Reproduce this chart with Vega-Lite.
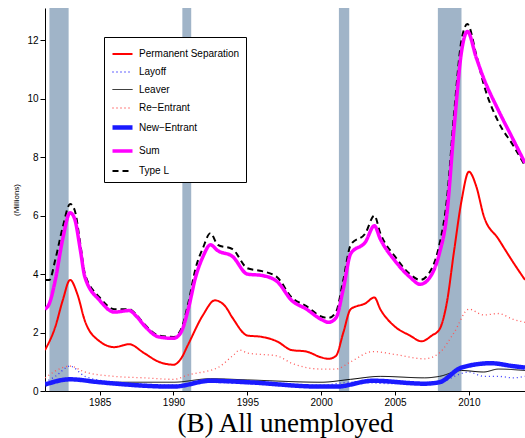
{
  "$schema": "https://vega.github.io/schema/vega-lite/v6.json",
  "width": 480,
  "height": 383,
  "autosize": "none",
  "padding": {"left": 45, "top": 8, "right": 0, "bottom": 47},
  "background": "white",
  "config": {"view": {"stroke": null}, "font": "Liberation Sans"},
  "datasets": {
    "rec": [
      {"s": 1981.6, "e": 1982.9},
      {"s": 1990.6, "e": 1991.2},
      {"s": 2001.2, "e": 2001.9},
      {"s": 2007.9, "e": 2009.5}
    ],
    "series": [
      {"k": "Type L", "t": 1981.3, "v": 3.8}, {"k": "Type L", "t": 1981.6, "v": 3.8}, {"k": "Type L", "t": 1982, "v": 4.5}, {"k": "Type L", "t": 1982.5, "v": 5.6}, {"k": "Type L", "t": 1983, "v": 6.4}, {"k": "Type L", "t": 1983.3, "v": 6.2}, {"k": "Type L", "t": 1983.7, "v": 5.0}, {"k": "Type L", "t": 1984, "v": 4.0}, {"k": "Type L", "t": 1985, "v": 3.2}, {"k": "Type L", "t": 1986, "v": 2.8}, {"k": "Type L", "t": 1987, "v": 2.8}, {"k": "Type L", "t": 1987.5, "v": 2.6}, {"k": "Type L", "t": 1988, "v": 2.3}, {"k": "Type L", "t": 1989, "v": 1.9}, {"k": "Type L", "t": 1990, "v": 1.85}, {"k": "Type L", "t": 1990.5, "v": 2.1}, {"k": "Type L", "t": 1991, "v": 3.0}, {"k": "Type L", "t": 1991.5, "v": 4.2}, {"k": "Type L", "t": 1992, "v": 4.9}, {"k": "Type L", "t": 1992.5, "v": 5.4}, {"k": "Type L", "t": 1993, "v": 5.0}, {"k": "Type L", "t": 1994, "v": 4.85}, {"k": "Type L", "t": 1995, "v": 4.2}, {"k": "Type L", "t": 1996, "v": 4.1}, {"k": "Type L", "t": 1997, "v": 3.9}, {"k": "Type L", "t": 1998, "v": 3.2}, {"k": "Type L", "t": 1999, "v": 2.9}, {"k": "Type L", "t": 2000, "v": 2.55}, {"k": "Type L", "t": 2000.5, "v": 2.5}, {"k": "Type L", "t": 2001, "v": 2.7}, {"k": "Type L", "t": 2001.5, "v": 3.8}, {"k": "Type L", "t": 2002, "v": 5.0}, {"k": "Type L", "t": 2003, "v": 5.4}, {"k": "Type L", "t": 2003.6, "v": 6.0}, {"k": "Type L", "t": 2004, "v": 5.4}, {"k": "Type L", "t": 2005, "v": 4.6}, {"k": "Type L", "t": 2006, "v": 4.0}, {"k": "Type L", "t": 2006.7, "v": 3.8}, {"k": "Type L", "t": 2007.5, "v": 4.2}, {"k": "Type L", "t": 2008, "v": 5.0}, {"k": "Type L", "t": 2008.5, "v": 6.5}, {"k": "Type L", "t": 2009, "v": 9.5}, {"k": "Type L", "t": 2009.5, "v": 12.0}, {"k": "Type L", "t": 2009.9, "v": 12.55}, {"k": "Type L", "t": 2010.5, "v": 11.5}, {"k": "Type L", "t": 2011, "v": 10.5}, {"k": "Type L", "t": 2012, "v": 9.2}, {"k": "Type L", "t": 2013, "v": 8.4}, {"k": "Type L", "t": 2013.8, "v": 7.7},
      {"k": "Sum", "t": 1981.3, "v": 2.8}, {"k": "Sum", "t": 1981.6, "v": 3.0}, {"k": "Sum", "t": 1982, "v": 3.8}, {"k": "Sum", "t": 1982.5, "v": 5.2}, {"k": "Sum", "t": 1983, "v": 6.1}, {"k": "Sum", "t": 1983.3, "v": 5.9}, {"k": "Sum", "t": 1983.7, "v": 4.8}, {"k": "Sum", "t": 1984, "v": 3.9}, {"k": "Sum", "t": 1985, "v": 3.1}, {"k": "Sum", "t": 1986, "v": 2.7}, {"k": "Sum", "t": 1987, "v": 2.75}, {"k": "Sum", "t": 1987.5, "v": 2.55}, {"k": "Sum", "t": 1988, "v": 2.25}, {"k": "Sum", "t": 1989, "v": 1.85}, {"k": "Sum", "t": 1990, "v": 1.8}, {"k": "Sum", "t": 1990.5, "v": 2.0}, {"k": "Sum", "t": 1991, "v": 2.8}, {"k": "Sum", "t": 1991.5, "v": 3.9}, {"k": "Sum", "t": 1992, "v": 4.6}, {"k": "Sum", "t": 1992.5, "v": 5.0}, {"k": "Sum", "t": 1993, "v": 4.8}, {"k": "Sum", "t": 1994, "v": 4.6}, {"k": "Sum", "t": 1995, "v": 4.0}, {"k": "Sum", "t": 1996, "v": 3.95}, {"k": "Sum", "t": 1997, "v": 3.75}, {"k": "Sum", "t": 1998, "v": 3.1}, {"k": "Sum", "t": 1999, "v": 2.8}, {"k": "Sum", "t": 2000, "v": 2.45}, {"k": "Sum", "t": 2000.5, "v": 2.35}, {"k": "Sum", "t": 2001, "v": 2.5}, {"k": "Sum", "t": 2001.5, "v": 3.5}, {"k": "Sum", "t": 2002, "v": 4.7}, {"k": "Sum", "t": 2003, "v": 5.1}, {"k": "Sum", "t": 2003.6, "v": 5.65}, {"k": "Sum", "t": 2004, "v": 5.2}, {"k": "Sum", "t": 2005, "v": 4.45}, {"k": "Sum", "t": 2006, "v": 3.9}, {"k": "Sum", "t": 2006.7, "v": 3.65}, {"k": "Sum", "t": 2007.5, "v": 4.0}, {"k": "Sum", "t": 2008, "v": 4.7}, {"k": "Sum", "t": 2008.5, "v": 6.0}, {"k": "Sum", "t": 2009, "v": 9.0}, {"k": "Sum", "t": 2009.5, "v": 11.6}, {"k": "Sum", "t": 2009.9, "v": 12.3}, {"k": "Sum", "t": 2010.5, "v": 11.4}, {"k": "Sum", "t": 2011, "v": 10.7}, {"k": "Sum", "t": 2012, "v": 9.6}, {"k": "Sum", "t": 2013, "v": 8.6}, {"k": "Sum", "t": 2013.8, "v": 7.8},
      {"k": "Permanent Separation", "t": 1981.3, "v": 1.4}, {"k": "Permanent Separation", "t": 1982, "v": 2.2}, {"k": "Permanent Separation", "t": 1982.5, "v": 3.1}, {"k": "Permanent Separation", "t": 1983, "v": 3.8}, {"k": "Permanent Separation", "t": 1983.5, "v": 3.3}, {"k": "Permanent Separation", "t": 1984, "v": 2.4}, {"k": "Permanent Separation", "t": 1985, "v": 1.7}, {"k": "Permanent Separation", "t": 1986, "v": 1.5}, {"k": "Permanent Separation", "t": 1987, "v": 1.6}, {"k": "Permanent Separation", "t": 1988, "v": 1.3}, {"k": "Permanent Separation", "t": 1989, "v": 1.0}, {"k": "Permanent Separation", "t": 1990, "v": 0.9}, {"k": "Permanent Separation", "t": 1990.5, "v": 1.1}, {"k": "Permanent Separation", "t": 1991, "v": 1.6}, {"k": "Permanent Separation", "t": 1992, "v": 2.6}, {"k": "Permanent Separation", "t": 1992.8, "v": 3.1}, {"k": "Permanent Separation", "t": 1993.5, "v": 2.9}, {"k": "Permanent Separation", "t": 1994, "v": 2.5}, {"k": "Permanent Separation", "t": 1995, "v": 1.9}, {"k": "Permanent Separation", "t": 1996, "v": 1.85}, {"k": "Permanent Separation", "t": 1997, "v": 1.7}, {"k": "Permanent Separation", "t": 1998, "v": 1.4}, {"k": "Permanent Separation", "t": 1999, "v": 1.35}, {"k": "Permanent Separation", "t": 2000, "v": 1.15}, {"k": "Permanent Separation", "t": 2000.5, "v": 1.1}, {"k": "Permanent Separation", "t": 2001, "v": 1.2}, {"k": "Permanent Separation", "t": 2001.5, "v": 2.0}, {"k": "Permanent Separation", "t": 2002, "v": 2.8}, {"k": "Permanent Separation", "t": 2003, "v": 3.0}, {"k": "Permanent Separation", "t": 2003.6, "v": 3.2}, {"k": "Permanent Separation", "t": 2004, "v": 2.8}, {"k": "Permanent Separation", "t": 2005, "v": 2.2}, {"k": "Permanent Separation", "t": 2006, "v": 1.9}, {"k": "Permanent Separation", "t": 2006.8, "v": 1.7}, {"k": "Permanent Separation", "t": 2007.5, "v": 1.9}, {"k": "Permanent Separation", "t": 2008, "v": 2.1}, {"k": "Permanent Separation", "t": 2008.5, "v": 3.0}, {"k": "Permanent Separation", "t": 2009, "v": 4.8}, {"k": "Permanent Separation", "t": 2009.5, "v": 6.5}, {"k": "Permanent Separation", "t": 2010, "v": 7.5}, {"k": "Permanent Separation", "t": 2010.5, "v": 7.0}, {"k": "Permanent Separation", "t": 2011, "v": 6.0}, {"k": "Permanent Separation", "t": 2012, "v": 5.2}, {"k": "Permanent Separation", "t": 2013, "v": 4.4}, {"k": "Permanent Separation", "t": 2013.8, "v": 3.8},
      {"k": "Re\u2212Entrant", "t": 1981.3, "v": 0.45}, {"k": "Re\u2212Entrant", "t": 1983, "v": 0.85}, {"k": "Re\u2212Entrant", "t": 1984, "v": 0.65}, {"k": "Re\u2212Entrant", "t": 1986, "v": 0.5}, {"k": "Re\u2212Entrant", "t": 1988, "v": 0.45}, {"k": "Re\u2212Entrant", "t": 1990, "v": 0.4}, {"k": "Re\u2212Entrant", "t": 1991, "v": 0.55}, {"k": "Re\u2212Entrant", "t": 1993, "v": 0.8}, {"k": "Re\u2212Entrant", "t": 1994, "v": 1.2}, {"k": "Re\u2212Entrant", "t": 1994.5, "v": 1.4}, {"k": "Re\u2212Entrant", "t": 1995, "v": 1.3}, {"k": "Re\u2212Entrant", "t": 1997, "v": 1.2}, {"k": "Re\u2212Entrant", "t": 1998, "v": 0.95}, {"k": "Re\u2212Entrant", "t": 2000, "v": 0.75}, {"k": "Re\u2212Entrant", "t": 2001, "v": 0.75}, {"k": "Re\u2212Entrant", "t": 2002, "v": 1.0}, {"k": "Re\u2212Entrant", "t": 2003.5, "v": 1.35}, {"k": "Re\u2212Entrant", "t": 2005, "v": 1.25}, {"k": "Re\u2212Entrant", "t": 2007, "v": 1.1}, {"k": "Re\u2212Entrant", "t": 2008, "v": 1.3}, {"k": "Re\u2212Entrant", "t": 2009, "v": 2.0}, {"k": "Re\u2212Entrant", "t": 2010, "v": 2.8}, {"k": "Re\u2212Entrant", "t": 2011, "v": 2.6}, {"k": "Re\u2212Entrant", "t": 2012, "v": 2.65}, {"k": "Re\u2212Entrant", "t": 2013, "v": 2.45}, {"k": "Re\u2212Entrant", "t": 2013.8, "v": 2.35},
      {"k": "Layoff", "t": 1981.3, "v": 0.3}, {"k": "Layoff", "t": 1982, "v": 0.5}, {"k": "Layoff", "t": 1983, "v": 0.85}, {"k": "Layoff", "t": 1984, "v": 0.5}, {"k": "Layoff", "t": 1986, "v": 0.3}, {"k": "Layoff", "t": 1990, "v": 0.2}, {"k": "Layoff", "t": 1992, "v": 0.3}, {"k": "Layoff", "t": 1995, "v": 0.25}, {"k": "Layoff", "t": 2000, "v": 0.2}, {"k": "Layoff", "t": 2002, "v": 0.3}, {"k": "Layoff", "t": 2005, "v": 0.25}, {"k": "Layoff", "t": 2008, "v": 0.3}, {"k": "Layoff", "t": 2009.5, "v": 0.6}, {"k": "Layoff", "t": 2010, "v": 0.65}, {"k": "Layoff", "t": 2011, "v": 0.5}, {"k": "Layoff", "t": 2012, "v": 0.5}, {"k": "Layoff", "t": 2013, "v": 0.45}, {"k": "Layoff", "t": 2013.8, "v": 0.5},
      {"k": "Leaver", "t": 1981.3, "v": 0.25}, {"k": "Leaver", "t": 1983, "v": 0.4}, {"k": "Leaver", "t": 1985, "v": 0.3}, {"k": "Leaver", "t": 1990, "v": 0.3}, {"k": "Leaver", "t": 1992.5, "v": 0.42}, {"k": "Leaver", "t": 1995, "v": 0.38}, {"k": "Leaver", "t": 2000, "v": 0.3}, {"k": "Leaver", "t": 2002, "v": 0.4}, {"k": "Leaver", "t": 2004, "v": 0.5}, {"k": "Leaver", "t": 2007, "v": 0.45}, {"k": "Leaver", "t": 2008, "v": 0.5}, {"k": "Leaver", "t": 2009.5, "v": 0.7}, {"k": "Leaver", "t": 2011, "v": 0.65}, {"k": "Leaver", "t": 2012, "v": 0.75}, {"k": "Leaver", "t": 2013.8, "v": 0.7},
      {"k": "New\u2212Entrant", "t": 1981.3, "v": 0.22}, {"k": "New\u2212Entrant", "t": 1983, "v": 0.4}, {"k": "New\u2212Entrant", "t": 1985, "v": 0.3}, {"k": "New\u2212Entrant", "t": 1990, "v": 0.15}, {"k": "New\u2212Entrant", "t": 1992.5, "v": 0.35}, {"k": "New\u2212Entrant", "t": 1995, "v": 0.3}, {"k": "New\u2212Entrant", "t": 2000, "v": 0.15}, {"k": "New\u2212Entrant", "t": 2001, "v": 0.15}, {"k": "New\u2212Entrant", "t": 2003.5, "v": 0.35}, {"k": "New\u2212Entrant", "t": 2007, "v": 0.25}, {"k": "New\u2212Entrant", "t": 2008, "v": 0.3}, {"k": "New\u2212Entrant", "t": 2009.5, "v": 0.8}, {"k": "New\u2212Entrant", "t": 2011.5, "v": 0.95}, {"k": "New\u2212Entrant", "t": 2013, "v": 0.85}, {"k": "New\u2212Entrant", "t": 2013.8, "v": 0.8}
    ]
  },
  "layer": [
    {
      "data": {"name": "rec"},
      "mark": {"type": "rect", "color": "#a0b4c8", "opacity": 1},
      "encoding": {
        "x": {"field": "s", "type": "quantitative"},
        "x2": {"field": "e"}
      }
    },
    {
      "data": {"name": "series"},
      "mark": {"type": "line", "clip": true, "interpolate": "monotone"},
      "encoding": {
        "x": {
          "field": "t", "type": "quantitative",
          "scale": {"domain": [1981.3, 2013.8], "nice": false, "zero": false},
          "axis": {"values": [1985, 1990, 1995, 2000, 2005, 2010], "format": "d", "grid": false, "domainColor": "black", "tickColor": "black", "labelColor": "black", "labelFontSize": 10, "tickSize": 4, "title": "(B) All unemployed", "titleFont": "Liberation Serif", "titleFontSize": 27, "titleFontWeight": "normal", "titlePadding": 3}
        },
        "y": {
          "field": "v", "type": "quantitative",
          "scale": {"domain": [0, 13.1], "nice": false},
          "axis": {"values": [0, 2, 4, 6, 8, 10, 12], "grid": false, "domainColor": "black", "tickColor": "black", "labelColor": "black", "labelFontSize": 10, "title": "(Millions)", "titleFontSize": 8, "titleFontWeight": "normal", "titlePadding": 6}
        },
        "order": {"field": "t", "type": "quantitative"},
        "color": {
          "field": "k", "type": "nominal",
          "scale": {
            "domain": ["Permanent Separation", "Layoff", "Leaver", "Re\u2212Entrant", "New\u2212Entrant", "Sum", "Type L"],
            "range": ["#ff0000", "#3333ff", "#000000", "#ff5555", "#1a1aff", "#ff00ff", "#000000"]
          },
          "legend": {
            "orient": "none", "legendX": 59, "legendY": 29, "title": null,
            "strokeColor": "black", "fillColor": "white", "padding": 6,
            "labelFontSize": 10, "labelColor": "black", "symbolSize": 400, "rowPadding": 2
          }
        },
        "strokeDash": {
          "field": "k", "type": "nominal",
          "scale": {
            "domain": ["Permanent Separation", "Layoff", "Leaver", "Re\u2212Entrant", "New\u2212Entrant", "Sum", "Type L"],
            "range": [[1, 0], [1, 3], [1, 0], [1, 3], [1, 0], [1, 0], [6, 4]]
          }
        },
        "strokeWidth": {
          "field": "k", "type": "nominal",
          "scale": {
            "type": "ordinal",
            "domain": ["Permanent Separation", "Layoff", "Leaver", "Re\u2212Entrant", "New\u2212Entrant", "Sum", "Type L"],
            "range": [2, 1.3, 1, 1.3, 4.5, 3.5, 2]
          }
        }
      }
    }
  ]
}
